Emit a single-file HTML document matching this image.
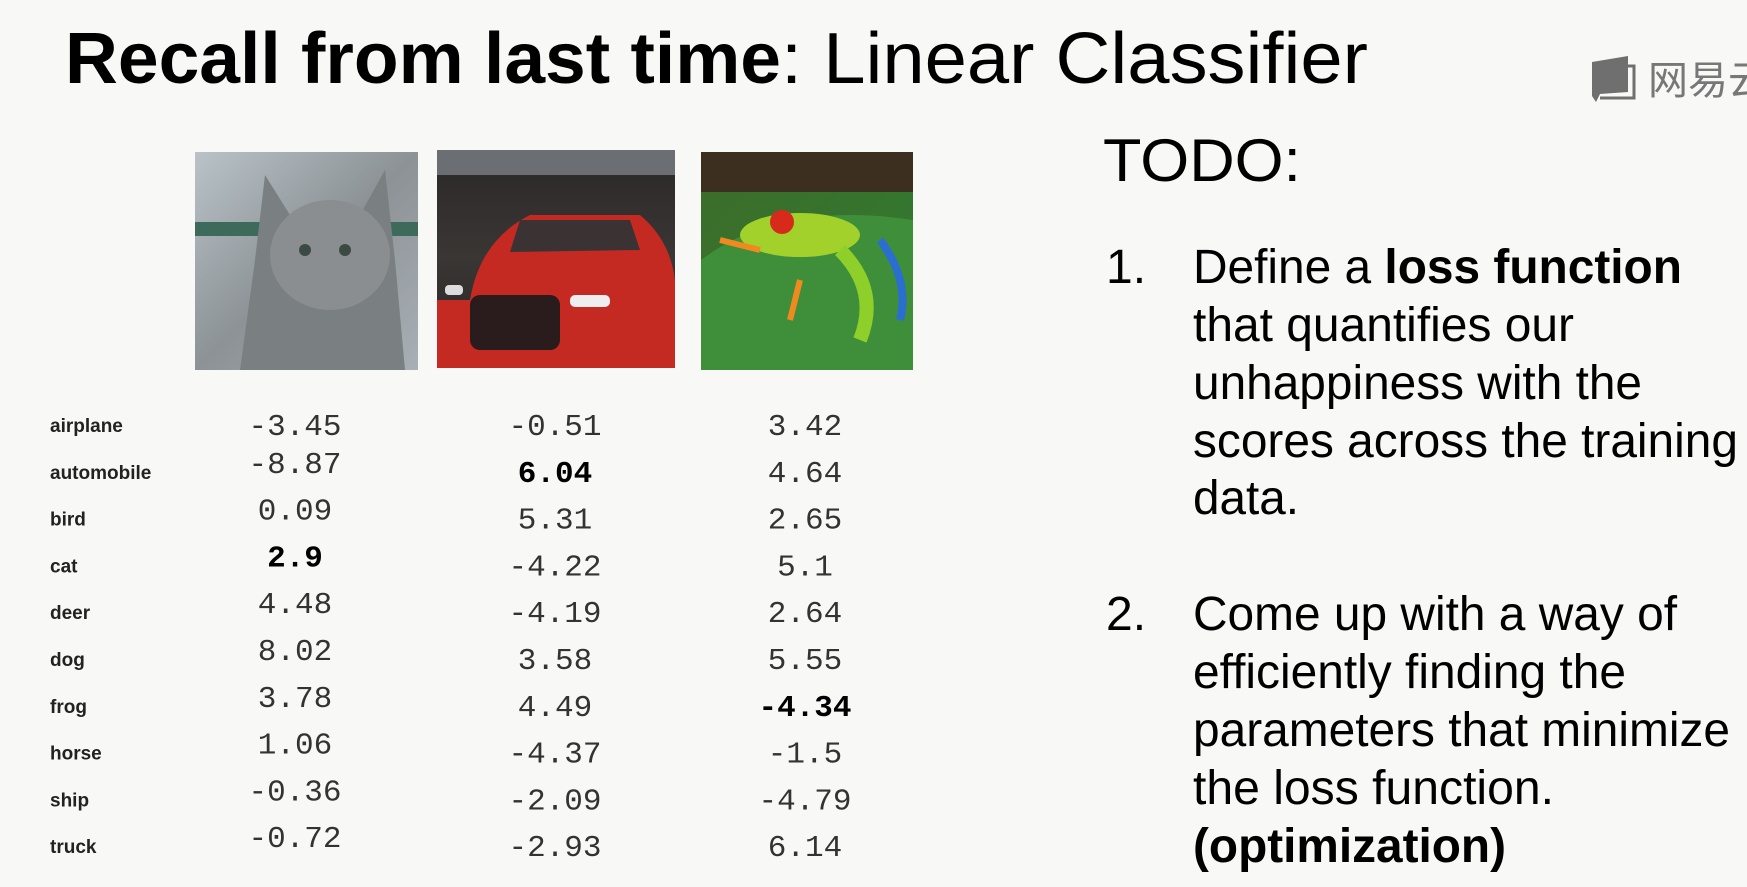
<!DOCTYPE html>
<html><head><meta charset="utf-8"><style>
html,body{margin:0;padding:0;background:#f8f8f6;}
svg{display:block}
</style></head><body>
<svg width="1747" height="887" viewBox="0 0 1747 887" xmlns="http://www.w3.org/2000/svg">
<defs>
<linearGradient id="catg" x1="0" y1="0" x2="1" y2="1"><stop offset="0" stop-color="#b9c3c8"/><stop offset="0.5" stop-color="#8c9296"/><stop offset="1" stop-color="#a9b0b5"/></linearGradient>
<linearGradient id="carbg" x1="0" y1="0" x2="0" y2="1"><stop offset="0" stop-color="#2a2828"/><stop offset="0.5" stop-color="#3a3634"/><stop offset="1" stop-color="#252323"/></linearGradient>
<linearGradient id="frogbg" x1="0" y1="0" x2="1" y2="1"><stop offset="0" stop-color="#3d6b2a"/><stop offset="1" stop-color="#2f7d32"/></linearGradient>
</defs>
<rect width="1747" height="887" fill="#f8f8f6"/>
<g font-family="Liberation Sans, Arial, sans-serif" fill="#000">
<text x="65" y="83" font-size="72" font-weight="bold" textLength="716" lengthAdjust="spacingAndGlyphs">Recall from last time</text>
<text x="781" y="83" font-size="72" textLength="587" lengthAdjust="spacingAndGlyphs">: Linear Classifier</text>
</g>
<g>
<path d="M1592 62 L1628 56 L1628 92 L1600 94 L1596 102 L1592 96 Z" fill="#6f6f6f"/>
<path d="M1626 66 L1634 66 L1634 98 L1600 98" fill="none" stroke="#6f6f6f" stroke-width="3"/>
<text x="1648" y="94" font-family="Liberation Sans, Noto Sans CJK SC, sans-serif" font-size="40" fill="#777">网易云</text>
</g>
<!-- images -->
<g>
<rect x="195" y="152" width="223" height="218" fill="url(#catg)"/>
<rect x="195" y="222" width="223" height="14" fill="#3d6a5a"/>
<path d="M265 175 L290 215 L360 215 L385 170 L395 260 L405 370 L240 370 L255 260 Z" fill="#7a7f82"/>
<ellipse cx="330" cy="255" rx="60" ry="55" fill="#8a8e90"/>
<circle cx="305" cy="250" r="6" fill="#3c4a44"/><circle cx="345" cy="250" r="6" fill="#3c4a44"/>
</g>
<g>
<rect x="437" y="150" width="238" height="218" fill="url(#carbg)"/>
<rect x="437" y="150" width="238" height="25" fill="#6b6f74"/>
<path d="M470 300 Q480 240 530 215 L640 215 Q670 240 675 280 L675 368 L437 368 L437 300 Z" fill="#c42a22"/>
<path d="M520 220 L630 220 L640 250 L510 252 Z" fill="#3b3333"/>
<rect x="470" y="295" width="90" height="55" rx="10" fill="#2a1c1c"/>
<rect x="570" y="295" width="40" height="12" rx="5" fill="#eee"/>
<rect x="445" y="285" width="18" height="10" rx="4" fill="#ddd"/>
</g>
<g>
<rect x="701" y="152" width="212" height="218" fill="url(#frogbg)"/>
<rect x="701" y="152" width="212" height="40" fill="#3c2f20"/>
<path d="M701 260 Q780 200 913 220 L913 370 L701 370 Z" fill="#3f8f3a"/>
<ellipse cx="800" cy="235" rx="60" ry="22" fill="#a3d12b"/>
<circle cx="782" cy="222" r="12" fill="#d82a1a"/>
<path d="M840 250 Q880 290 860 340" stroke="#8ecf2a" stroke-width="14" fill="none"/>
<path d="M880 240 Q910 280 900 320" stroke="#2a6fd0" stroke-width="8" fill="none"/>
<path d="M760 250 L720 240 M800 280 L790 320" stroke="#f08a20" stroke-width="6"/>
</g>
<g id="table"></g>
<g font-family="Liberation Sans, Arial, sans-serif" fill="#000">
<text x="1103" y="181" font-size="60" textLength="198" lengthAdjust="spacingAndGlyphs">TODO:</text>
<text x="1106" y="283" font-size="48">1.</text>
<text x="1193" y="283" font-size="48" textLength="489" lengthAdjust="spacingAndGlyphs">Define a <tspan font-weight="bold">loss function</tspan></text>
<text x="1193" y="341" font-size="48" textLength="381" lengthAdjust="spacingAndGlyphs">that quantifies our</text>
<text x="1193" y="399" font-size="48" textLength="449" lengthAdjust="spacingAndGlyphs">unhappiness with the</text>
<text x="1193" y="457" font-size="48" textLength="545" lengthAdjust="spacingAndGlyphs">scores across the training</text>
<text x="1193" y="514" font-size="48" textLength="106" lengthAdjust="spacingAndGlyphs">data.</text>
<text x="1106" y="630" font-size="48">2.</text>
<text x="1193" y="630" font-size="48" textLength="484" lengthAdjust="spacingAndGlyphs">Come up with a way of</text>
<text x="1193" y="688" font-size="48" textLength="433" lengthAdjust="spacingAndGlyphs">efficiently finding the</text>
<text x="1193" y="746" font-size="48" textLength="537" lengthAdjust="spacingAndGlyphs">parameters that minimize</text>
<text x="1193" y="804" font-size="48" textLength="361" lengthAdjust="spacingAndGlyphs">the loss function.</text>
<text x="1193" y="862" font-size="48" font-weight="bold" textLength="313" lengthAdjust="spacingAndGlyphs">(optimization)</text>
</g>
</svg>
<script>
const categories = ["airplane","automobile","bird","cat","deer","dog","frog","horse","ship","truck"];
const catScores = ["-3.45","-8.87","0.09","2.9","4.48","8.02","3.78","1.06","-0.36","-0.72"];
const carScores = ["-0.51","6.04","5.31","-4.22","-4.19","3.58","4.49","-4.37","-2.09","-2.93"];
const frogScores = ["3.42","4.64","2.65","5.1","2.64","5.55","-4.34","-1.5","-4.79","6.14"];
const boldIndex = [3, 1, 6];
const series = [catScores, carScores, frogScores];
const seriesNames = ["cat","car","frog"];

const NS = "http://www.w3.org/2000/svg";
const g = document.getElementById("table");
const colX = i => [295, 555, 805][i];
const rowY = r => 432 + r * 46.8;
categories.forEach((c, r) => {
  const t = document.createElementNS(NS, "text");
  t.setAttribute("x", 50);
  t.setAttribute("y", rowY(r));
  t.setAttribute("font-family", "Liberation Sans, Arial, sans-serif");
  t.setAttribute("font-size", "19");
  t.setAttribute("font-weight", "bold");
  t.setAttribute("fill", "#222");
  
  
  t.textContent = c;
  g.appendChild(t);
});
series.forEach((vals, i) => {
  vals.forEach((v, r) => {
    const t = document.createElementNS(NS, "text");
    const off = (i === 0 && r > 0) ? -9 : 0;
    t.setAttribute("x", colX(i));
    t.setAttribute("y", rowY(r) + 3 + off);
    t.setAttribute("text-anchor", "middle");
    t.setAttribute("font-family", "Liberation Mono, DejaVu Sans Mono, monospace");
    t.setAttribute("font-size", "31");
    t.setAttribute("fill", "#333");
    if (boldIndex[i] === r) { t.setAttribute("font-weight", "bold"); t.setAttribute("fill", "#000"); }
    
    
    t.textContent = v;
    g.appendChild(t);
  });
});
</script>
</body></html>
